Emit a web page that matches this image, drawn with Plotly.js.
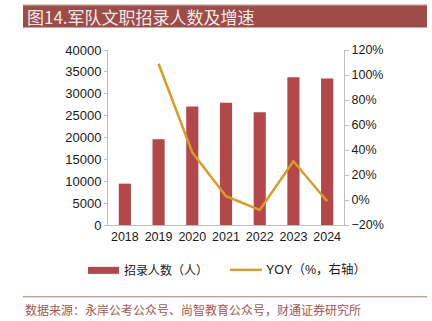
<!DOCTYPE html>
<html>
<head>
<meta charset="utf-8">
<script src="https://cdn.plot.ly/plotly-3.0.1.min.js"></script>
<style>html,body{margin:0;padding:0;background:#fff;}#chart{width:432px;height:321px;}</style>
</head>
<body>
<div id="chart"></div>
<script>
// Data
var years = ['2018', '2019', '2020', '2021', '2022', '2023', '2024'];
var recruits = [9450, 19600, 27100, 27950, 25750, 33800, 33500];
var yoy = [null, 109, 38, 3, -8, 31, -1];
var titleText = '图14.军队文职招录人数及增速';
var barName = '招录人数（人）';
var lineName = 'YOY（%，右轴）';
var sourceText = '数据来源：永岸公考公众号、尚智教育公众号，财通证券研究所';

// pixel -> paper helpers (layout only)
var L = 108, R = 344, T = 49.5, B = 225;
function px(x) { return (x - L) / (R - L); }
function py(y) { return (B - y) / (B - T); }

var barColor = '#B3474A', lineColor = '#DA9C22', axisColor = '#BFBFBF';
var cjk = '"Noto Sans CJK SC", sans-serif';
var latin = '"Liberation Sans", Arial, sans-serif';

var traces = [
  { type: 'bar', x: years, y: recruits, name: barName, marker: { color: barColor }, width: 0.36, yaxis: 'y', showlegend: false },
  { type: 'scatter', mode: 'lines', x: years, y: yoy, name: lineName, line: { color: lineColor, width: 2.5 }, yaxis: 'y2', connectgaps: false, showlegend: false }
];

var layout = {
  width: 432, height: 321,
  margin: { l: L, r: 432 - R, t: T, b: 321 - B },
  paper_bgcolor: '#fff', plot_bgcolor: '#fff',
  showlegend: false,
  font: { family: latin, color: '#1a1a1a', size: 13 },
  xaxis: {
    type: 'category', showgrid: false, showline: true, linecolor: axisColor, linewidth: 1,
    ticks: '', tickfont: { size: 12.5, family: latin, color: '#1a1a1a' }, zeroline: false, fixedrange: true
  },
  yaxis: {
    range: [0, 40000], dtick: 5000, showgrid: false, zeroline: false, showline: true, linecolor: axisColor, linewidth: 1,
    ticks: 'outside', ticklen: 3, tickcolor: axisColor, tickfont: { size: 13, family: latin, color: '#1a1a1a' }, tickformat: 'd'
  },
  yaxis2: {
    overlaying: 'y', side: 'right', range: [-20, 120], dtick: 20, ticksuffix: '%', showgrid: false, zeroline: false,
    showline: true, linecolor: axisColor, linewidth: 1, ticks: 'outside', ticklen: 4, tickcolor: axisColor,
    tickfont: { size: 12.5, family: latin, color: '#1a1a1a' }
  },
  shapes: [
    // title banner
    { type: 'rect', xref: 'paper', yref: 'paper', x0: px(23), x1: px(427), y0: py(27), y1: py(4.5), fillcolor: '#9D4C48', line: { width: 0 }, layer: 'below' },
    { type: 'line', xref: 'paper', yref: 'paper', x0: px(23), x1: px(427), y0: py(4), y1: py(4), line: { color: '#DDBDBA', width: 1 } },
    // source separator
    { type: 'line', xref: 'paper', yref: 'paper', x0: px(23), x1: px(427), y0: py(297), y1: py(297), line: { color: '#B9716D', width: 1 } },
    // legend swatches
    { type: 'rect', xref: 'paper', yref: 'paper', x0: px(88), x1: px(119), y0: py(274), y1: py(267), fillcolor: barColor, line: { width: 0 } },
    { type: 'line', xref: 'paper', yref: 'paper', x0: px(230), x1: px(262), y0: py(270), y1: py(270), line: { color: lineColor, width: 2.5 } }
  ],
  annotations: [
    { xref: 'paper', yref: 'paper', x: px(25), y: py(16), xanchor: 'left', yanchor: 'middle', text: titleText, showarrow: false,
      font: { family: cjk, size: 17, color: '#F6EAE8' } },
    { xref: 'paper', yref: 'paper', x: px(122), y: py(270), xanchor: 'left', yanchor: 'middle', text: barName, showarrow: false,
      font: { family: cjk, size: 12, color: '#1a1a1a' } },
    { xref: 'paper', yref: 'paper', x: px(264), y: py(270), xanchor: 'left', yanchor: 'middle', text: lineName, showarrow: false,
      font: { family: latin + ', ' + cjk, size: 12.5, color: '#1a1a1a' } },
    { xref: 'paper', yref: 'paper', x: px(23), y: py(310), xanchor: 'left', yanchor: 'middle', text: sourceText, showarrow: false,
      font: { family: cjk, size: 12, color: '#A65651' } }
  ]
};

Plotly.newPlot('chart', traces, layout, { displayModeBar: false, staticPlot: true });
</script>
</body>
</html>
